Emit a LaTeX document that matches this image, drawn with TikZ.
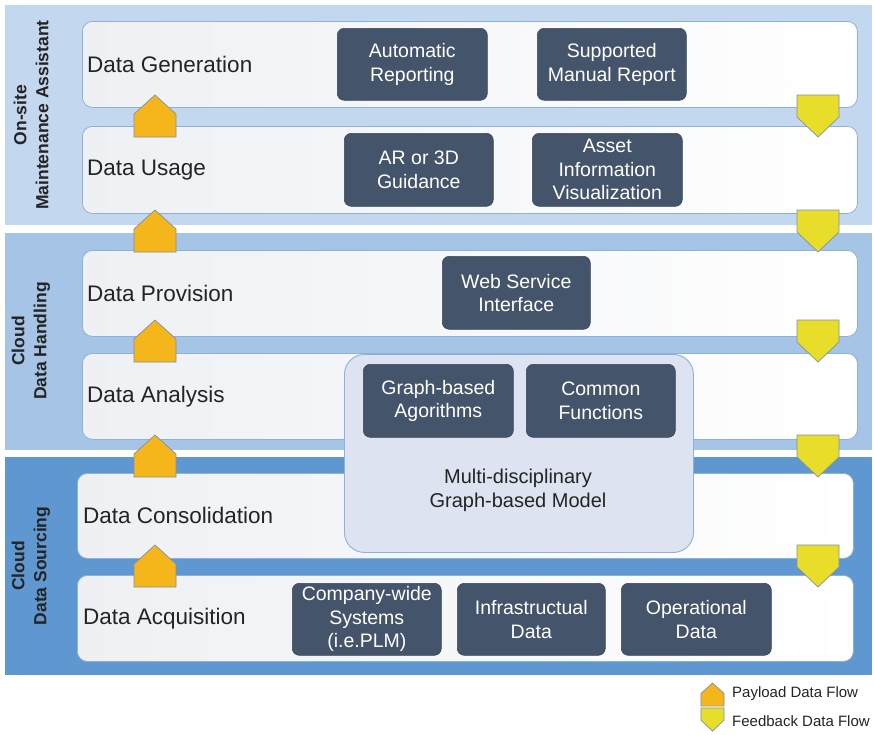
\documentclass[tikz,border=0pt]{standalone}
\usepackage{fontspec}
\setmainfont{Liberation Sans}
\usetikzlibrary{positioning,calc}

\definecolor{bandA}{HTML}{C3D8EE}
\definecolor{bandB}{HTML}{A5C4E6}
\definecolor{bandC}{HTML}{5F97D0}
\definecolor{rowedge}{HTML}{8DB2DA}
\definecolor{rowgray}{HTML}{EEF0F4}
\definecolor{slate}{HTML}{44546A}
\definecolor{modelfill}{HTML}{DDE3F0}
\definecolor{payload}{HTML}{F5B61B}
\definecolor{feedback}{HTML}{E8DE2A}
\definecolor{arrowedge}{HTML}{7D90A8}
\definecolor{ink}{HTML}{242424}

\tikzset{
  band/.style={draw=none, inner sep=0pt, anchor=north west},
  rowbox/.style={draw=rowedge, line width=0.8pt, rounded corners=10pt,
    left color=rowgray, right color=white, inner sep=0pt, anchor=north west},
  rowlabel/.style={anchor=west, inner sep=0pt, text=ink,
    font=\fontsize{22.5}{27}\selectfont},
  darkbox/.style={fill=slate, draw=slate!85!black, line width=0.6pt,
    rounded corners=7pt, text=white, align=center, inner sep=0pt,
    anchor=north west, font=\fontsize{19.5}{23.5}\selectfont},
  modelbox/.style={fill=modelfill, draw=rowedge, line width=0.9pt,
    rounded corners=20pt, inner sep=0pt, anchor=north west},
  bandlabel/.style={rotate=90, align=center, text=ink, inner sep=0pt,
    font=\fontsize{17.5}{22}\selectfont\bfseries},
  legendtext/.style={anchor=west, inner sep=0pt, text=ink,
    font=\fontsize{15}{18}\selectfont},
  arrowlook/.style={draw=arrowedge, line width=0.7pt, line join=miter},
  % block arrows; origin is the first edge met in the flow direction
  payloadarrow/.pic={
    \draw[arrowlook, fill=payload]
      (-21,42) -- (-21,19) -- (0,0) -- (21,19) -- (21,42) -- cycle;},
  feedbackarrow/.pic={
    \draw[arrowlook, fill=feedback]
      (-21,0) -- (21,0) -- (21,22) -- (0,42) -- (-21,22) -- cycle;},
}

\begin{document}
\begin{tikzpicture}[x=1pt, y=-1pt]
\useasboundingbox (0,0) rectangle (874,734);
\fill[white] (0,0) rectangle (874,734);

% three layers
\node[band, fill=bandA, minimum width=867pt, minimum height=220pt] (layerA) at (5,5) {};
\node[band, fill=bandB, minimum width=867pt, minimum height=217pt] (layerB) at (5,233) {};
\node[band, fill=bandC, minimum width=867pt, minimum height=218pt] (layerC) at (5,457) {};

% layer titles
\node[bandlabel] (titleA) at (31,115) {On-site\\Maintenance Assistant};
\node[bandlabel] (titleB) at (31,341) {Cloud\\Data Handling};
\node[bandlabel] (titleC) at (31,566) {Cloud\\Data Sourcing};

% processing stages
\node[rowbox, minimum width=775pt, minimum height=86pt] (gen)  at (82,21)  {};
\node[rowbox, minimum width=775pt, minimum height=87pt] (use)  at (82,126) {};
\node[rowbox, minimum width=775pt, minimum height=86pt] (prov) at (82,250) {};
\node[rowbox, minimum width=775pt, minimum height=86pt] (anal) at (82,353) {};
\node[rowbox, minimum width=776pt, minimum height=85pt] (cons) at (77,473) {};
\node[rowbox, minimum width=776pt, minimum height=86pt] (acq)  at (77,575) {};

\node[rowlabel] (genL)  at ([xshift=5pt]gen.west)  {Data Generation};
\node[rowlabel] (useL)  at ([xshift=5pt]use.west)  {Data Usage};
\node[rowlabel] (provL) at ([xshift=5pt]prov.west) {Data Provision};
\node[rowlabel] (analL) at ([xshift=5pt]anal.west) {Data Analysis};
\node[rowlabel] (consL) at ([xshift=6pt]cons.west) {Data Consolidation};
\node[rowlabel] (acqL)  at ([xshift=6pt]acq.west)  {Data Acquisition};

% shared model spanning analysis and consolidation
\node[modelbox, minimum width=349pt, minimum height=198pt] (model) at (344,354) {};
\node[align=center, text=ink, inner sep=0pt, font=\fontsize{20}{24}\selectfont]
  (modelL) at (518,490) {Multi-disciplinary\\Graph-based Model};

% components
\node[darkbox, minimum width=150pt, minimum height=72pt] (autorep)  at (337,28)  {Automatic\\Reporting};
\node[darkbox, minimum width=149pt, minimum height=72pt] (manrep)   at (537,28)  {Supported\\Manual Report};
\node[darkbox, minimum width=149pt, minimum height=73pt] (guide)    at (344,133) {AR or 3D\\Guidance};
\node[darkbox, minimum width=150pt, minimum height=73pt] (assetvis) at (532,133) {Asset\\Information\\Visualization};
\node[darkbox, minimum width=148pt, minimum height=73pt] (websvc)   at (442,256) {Web Service\\Interface};
\node[darkbox, minimum width=150pt, minimum height=73pt] (graphalg) at (363,364) {Graph-based\\Agorithms};
\node[darkbox, minimum width=149pt, minimum height=73pt] (commonfn) at (526,364) {Common\\Functions};
\node[darkbox, minimum width=149pt, minimum height=72pt] (company)  at (292,583) {Company-wide\\Systems\\(i.e.PLM)};
\node[darkbox, minimum width=148pt, minimum height=72pt] (infra)    at (457,583) {Infrastructual\\Data};
\node[darkbox, minimum width=150pt, minimum height=72pt] (oper)     at (621,583) {Operational\\Data};

% payload flow (upwards) and feedback flow (downwards)
\foreach \y in {95,210,320,435,545} {
  \pic at (155,\y) {payloadarrow};
  \pic at (818,\y) {feedbackarrow};
}

% legend
\pic[scale=0.55] at (712.5,683) {payloadarrow};
\pic[scale=0.55] at (712.5,708) {feedbackarrow};
\node[legendtext] (legP) at (732,694) {Payload Data Flow};
\node[legendtext] (legF) at (732,721) {Feedback Data Flow};
\end{tikzpicture}
\end{document}
